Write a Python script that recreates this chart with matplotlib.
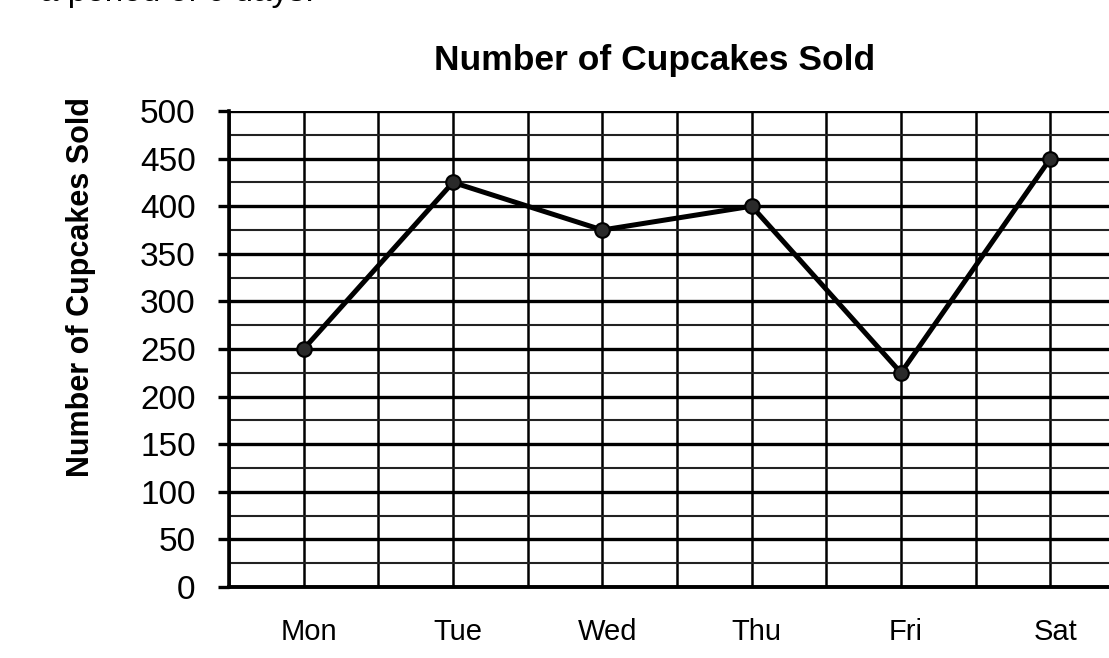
import matplotlib
matplotlib.use("Agg")
import matplotlib.pyplot as plt
from matplotlib.transforms import ScaledTranslation
import numpy as np

plt.rcParams['font.family'] = ['Liberation Sans', 'DejaVu Sans']

days = ['Mon', 'Tue', 'Wed', 'Thu', 'Fri', 'Sat']
cupcakes = [250, 425, 375, 400, 225, 450]
y_ticks = list(range(0, 501, 50))
y_minor = list(range(25, 500, 50))

fig = plt.figure(figsize=(11.09, 6.58), dpi=100)
# axes runs past the right edge, the scan is cut off there
ax = fig.add_axes([229 / 1109, 1 - 587 / 658, 896 / 1109, 476 / 658])

x = np.arange(len(days)) + 0.5
ax.plot(x, cupcakes, color='black', lw=3.6, marker='o', markersize=10.5,
        markerfacecolor='#2a2a2a', markeredgecolor='black', markeredgewidth=1.5,
        zorder=5, clip_on=False)

ax.set_xlim(0, len(days))
ax.set_ylim(0, 500)

ax.set_xticks(x)
ax.set_xticklabels(days, fontsize=21)
ax.set_xticks(np.arange(0, len(days) + 1), minor=True)
ax.set_yticks(y_ticks)
ax.set_yticklabels([str(v) for v in y_ticks], fontsize=24)
ax.set_yticks(y_minor, minor=True)

ax.tick_params(axis='x', which='both', length=0, pad=22)
ax.tick_params(axis='y', which='major', length=8, width=2.4, pad=16, direction='out')
ax.tick_params(axis='y', which='minor', length=0)

ax.grid(True, axis='x', which='both', color='black', lw=1.8)
ax.grid(True, axis='y', which='major', color='black', lw=2.4)
ax.grid(True, axis='y', which='minor', color='#222222', lw=1.5)
ax.set_axisbelow(True)

for side in ['top', 'right']:
    ax.spines[side].set_visible(False)
ax.spines['left'].set_linewidth(2.6)
ax.spines['bottom'].set_linewidth(2.8)

shift = ScaledTranslation(5 / 100, 0, fig.dpi_scale_trans)
for lab in ax.get_xticklabels():
    lab.set_transform(lab.get_transform() + shift)

fig.text(655 / 1109, 1 - 70 / 658, 'Number of Cupcakes Sold', ha='center',
         va='baseline', fontsize=25.5, fontweight='bold')
fig.text(81 / 1109, 1 - 287 / 658, 'Number of Cupcakes Sold', ha='center',
         va='center', rotation=90, fontsize=22, fontweight='bold')
# leftover line of the worksheet text above, mostly cut off
fig.text(40 / 1109, 1 - 1 / 658, 'a period of 6 days.', ha='left',
         va='baseline', fontsize=24)

fig.savefig('out.png', dpi=100, facecolor='white')
